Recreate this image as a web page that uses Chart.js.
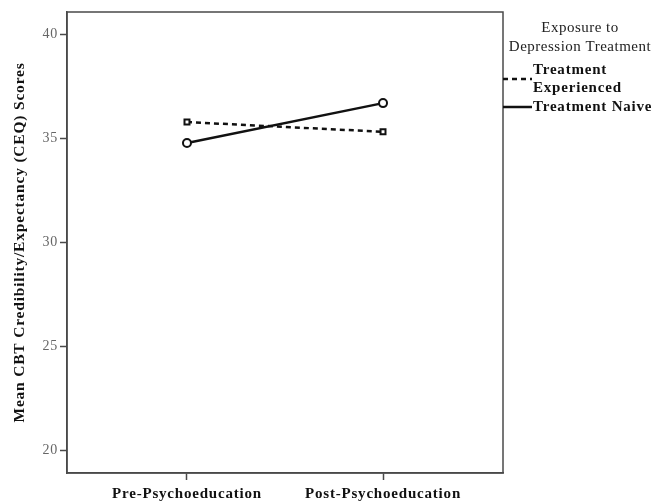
<!DOCTYPE html>
<html>
<head>
<meta charset="utf-8">
<script src="https://cdn.jsdelivr.net/npm/chart.js@4/dist/chart.umd.min.js"></script>
<style>
  html, body { margin: 0; padding: 0; background: #fff; }
  #wrap { width: 654px; height: 503px; position: relative; }
</style>
</head>
<body>
<div id="wrap"><canvas id="ceqChart"></canvas></div>
<script>
// ==========================
// DATA
// ==========================
const phases = ["Pre-Psychoeducation", "Post-Psychoeducation"];
const experienced = [35.77, 35.30];
const naive = [34.76, 36.68];
const seriesNames = ["Treatment Experienced", "Treatment Naive"];
const yTicks = [20, 25, 30, 35, 40];
const legendTitle = ["Exposure to", "Depression Treatment"];

const serif = "'Liberation Serif', 'DejaVu Serif', serif";
const frameColor = "#4a4a4a";
const spacing = "0.8px";

// ==========================
// TEXT SPACING (old Times rendering is wider)
// ==========================
const spacingPlugin = {
    id: "spacing",
    beforeUpdate(chart) { chart.ctx.letterSpacing = spacing; },
    beforeDraw(chart) { chart.ctx.letterSpacing = spacing; }
};

// ==========================
// FRAME + LEGEND PLUGIN
// ==========================
const framePlugin = {
    id: "frame",
    afterDraw(chart) {
        const { ctx, chartArea: a } = chart;
        ctx.save();
        ctx.strokeStyle = frameColor;
        ctx.lineWidth = 1.5;
        ctx.strokeRect(a.left, a.top, a.right - a.left, a.bottom - a.top);

        // legend title
        ctx.letterSpacing = "0.5px";
        ctx.fillStyle = "#222";
        ctx.font = `15px ${serif}`;
        ctx.textAlign = "center";
        ctx.textBaseline = "middle";
        ctx.fillText(legendTitle[0], 580, 28);
        ctx.fillText(legendTitle[1], 580, 47);

        // legend entries
        ctx.letterSpacing = spacing;
        ctx.font = `bold 15px ${serif}`;
        ctx.textAlign = "left";
        const lh = 18;
        let y = 70;
        chart.data.datasets.forEach(ds => {
            const words = ds.label.split(" ");
            const lines = [];
            let cur = "";
            words.forEach(w => {
                const test = cur ? cur + " " + w : w;
                if (ctx.measureText(test).width > 124 && cur) {
                    lines.push(cur);
                    cur = w;
                } else {
                    cur = test;
                }
            });
            lines.push(cur);

            const mid = y + (lines.length - 1) * lh / 2;
            ctx.strokeStyle = "#111";
            ctx.lineWidth = 2.5;
            ctx.setLineDash(ds.borderDash || []);
            ctx.beginPath();
            ctx.moveTo(a.right, mid);
            ctx.lineTo(a.right + 29, mid);
            ctx.stroke();
            ctx.setLineDash([]);

            ctx.fillStyle = "#111";
            lines.forEach((ln, i) => ctx.fillText(ln, 533, y + i * lh));
            y += lines.length * lh + 1;
        });
        ctx.restore();
    }
};

// ==========================
// CHART
// ==========================
const toPoints = vals => vals.map((v, i) => ({ x: i, y: v }));

new Chart(document.getElementById("ceqChart"), {
    type: "line",
    data: {
        datasets: [
            {
                label: seriesNames[0],
                data: toPoints(experienced),
                borderColor: "#111",
                borderWidth: 2.5,
                borderDash: [5, 4],
                pointStyle: "rect",
                pointRadius: 3.5,
                pointBackgroundColor: "#fff",
                pointBorderColor: "#111",
                pointBorderWidth: 2,
                fill: false
            },
            {
                label: seriesNames[1],
                data: toPoints(naive),
                borderColor: "#111",
                borderWidth: 2.5,
                pointStyle: "circle",
                pointRadius: 4,
                pointBackgroundColor: "#fff",
                pointBorderColor: "#111",
                pointBorderWidth: 2,
                fill: false
            }
        ]
    },
    options: {
        responsive: true,
        maintainAspectRatio: false,
        animation: false,
        layout: {
            padding: { top: 12, right: 151, left: 0, bottom: 0 }
        },
        plugins: {
            legend: { display: false },
            tooltip: { enabled: false }
        },
        scales: {
            x: {
                type: "linear",
                min: -0.612,
                max: 1.612,
                afterBuildTicks: s => {
                    s.ticks = phases.map((_, i) => ({ value: i }));
                },
                afterFit: s => { s.height = 30; },
                grid: {
                    drawOnChartArea: false,
                    drawTicks: true,
                    tickLength: 7,
                    tickColor: frameColor,
                    tickWidth: 1.5
                },
                border: { color: frameColor, width: 1.5 },
                ticks: {
                    padding: 5,
                    color: "#111",
                    font: { family: serif, size: 15, weight: "bold" },
                    callback: v => phases[v] ?? ""
                }
            },
            y: {
                min: 18.9,
                max: 41.06,
                afterBuildTicks: s => {
                    s.ticks = yTicks.map(v => ({ value: v }));
                },
                afterFit: s => { s.width = 67; },
                grid: {
                    drawOnChartArea: false,
                    drawTicks: true,
                    tickLength: 7,
                    tickColor: frameColor,
                    tickWidth: 1.5
                },
                border: { color: frameColor, width: 1.5 },
                ticks: {
                    padding: 2,
                    color: "#666",
                    font: { family: serif, size: 14 }
                },
                title: {
                    display: true,
                    text: "Mean CBT Credibility/Expectancy (CEQ) Scores",
                    color: "#111",
                    font: { family: serif, size: 15.5, weight: "bold" },
                    padding: { top: 11, bottom: 0 }
                }
            }
        }
    },
    plugins: [spacingPlugin, framePlugin]
});
</script>
</body>
</html>
